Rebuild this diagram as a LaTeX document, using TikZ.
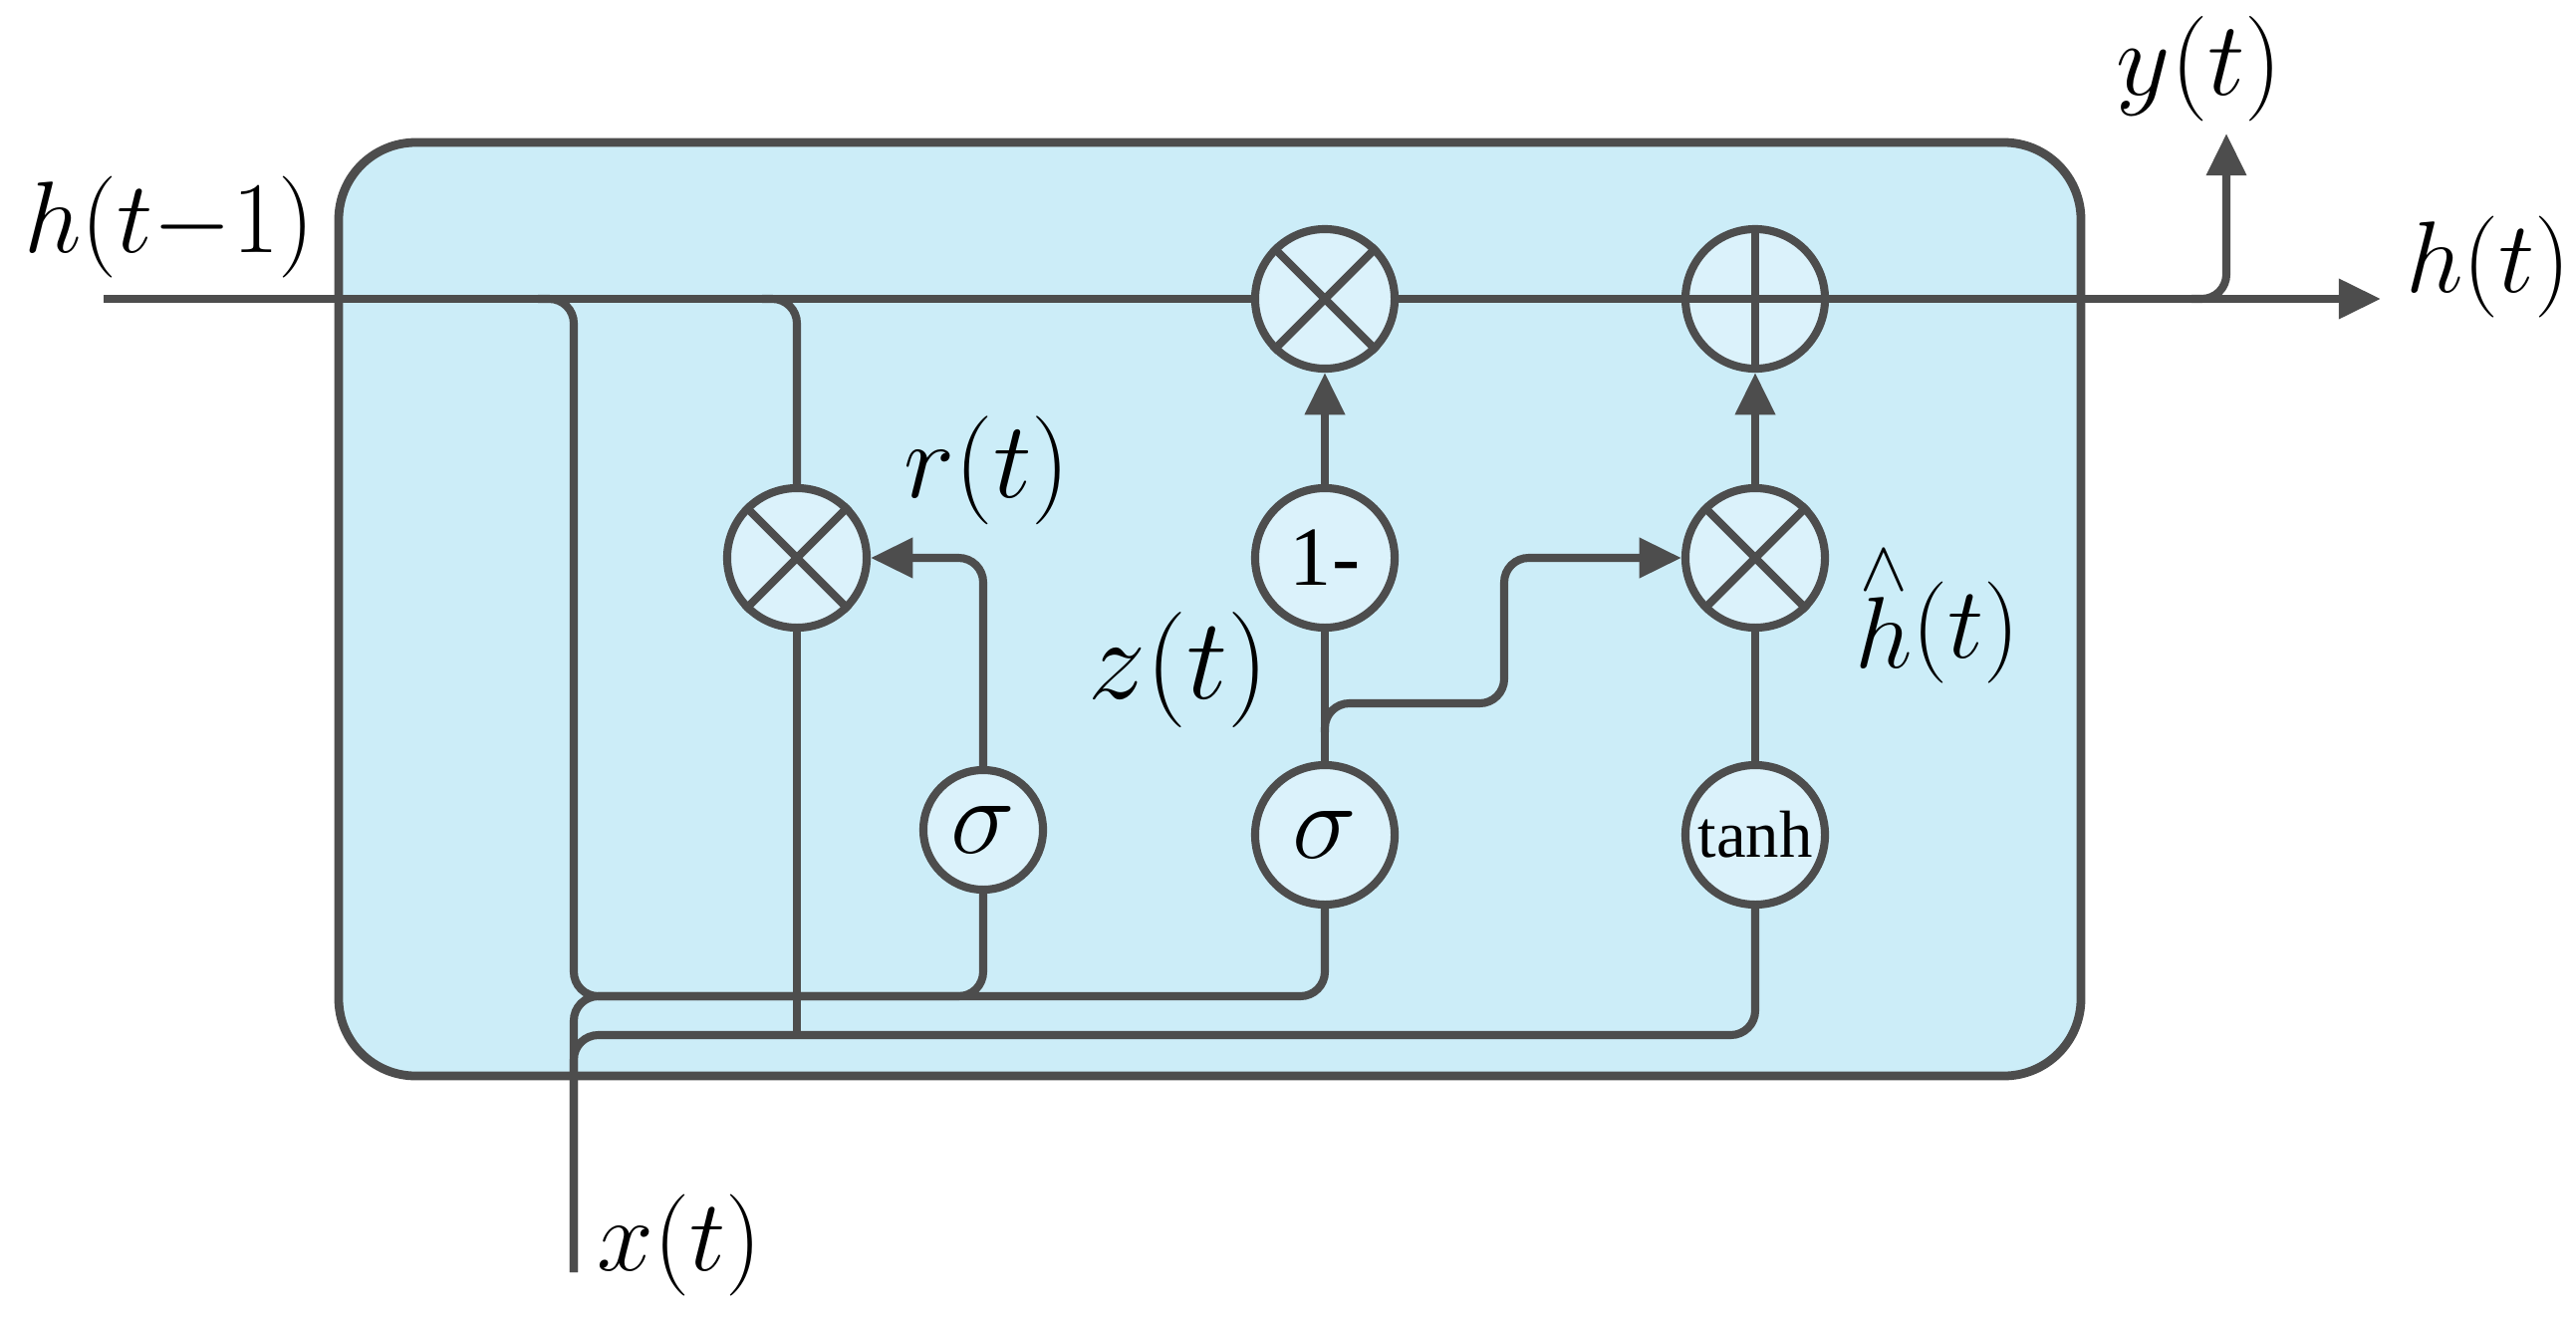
\RequirePackage{fix-cm}
\documentclass[tikz,border=0pt]{standalone}
\usepackage{fontspec}
\setmainfont{Liberation Serif}
\usetikzlibrary{arrows.meta}

\definecolor{cellfill}{HTML}{CCEDF8}
\definecolor{gatefill}{HTML}{DBF2FB}
\definecolor{wire}{HTML}{4D4D4D}

\begin{document}
\begin{tikzpicture}[
  x=0.01cm, y=-0.01cm,
  wire/.style={draw=wire, line width=2.3pt, rounded corners=7pt},
  arr/.style={wire, -{Triangle[length=12pt,width=11pt]}},
  gate/.style={circle, draw=wire, line width=2.3pt, fill=gatefill, minimum size=1.4cm, inner sep=0pt, font=\fontsize{24}{26}\selectfont},
  lbl/.style={font=\fontsize{29}{31}\selectfont}
]
\useasboundingbox (0,0) rectangle (2586,1321);
\draw[draw=wire, line width=2.5pt, fill=cellfill, rounded corners=22pt] (340,143) rectangle (2089,1080);

\node[gate] (mtop) at (1330,300) {};
\node[gate] (plus) at (1762,300) {};
\node[gate] (mr) at (800,560) {};
\node[gate] (one) at (1330,560) {1-};
\node[gate] (mh) at (1762,560) {};
\node[gate, minimum size=1.2cm, font=\fontsize{31}{33}\selectfont] (sr) at (987,833) {$\sigma$};
\node[gate, font=\fontsize{31}{33}\selectfont] (sz) at (1330,838) {$\sigma$};
\node[gate, font=\fontsize{19}{20}\selectfont] (th) at (1762,838) {tanh};

\foreach \g in {mtop,mr,mh}
  \draw[wire] (\g.45) -- (\g.225) (\g.135) -- (\g.-45);
\draw[wire] (plus.north) -- (plus.south) (plus.west) -- (plus.east);

\coordinate (hin) at (104,300);
\coordinate (hout) at (2390,300);
\coordinate (ybr) at (2200,300);
\coordinate (yout) at (2235,134);
\coordinate (xin) at (576,1277);
\coordinate (hbr1) at (540,300);
\coordinate (hbr2) at (765,300);
\coordinate (aline) at (700,1000);
\coordinate (bline) at (700,1039);
\coordinate (zbr) at (1330,735);

% h(t-1) -> h(t)
\draw[wire] (hin) -- (mtop);
\draw[wire] (mtop) -- (plus);
\draw[arr] (plus) -- (hout);
\draw[arr] (ybr) -| (yout);

% gate inputs
\draw[wire] (hbr1) -| (576,1000) -| (sz.south);
\draw[wire] (sr.south) |- (aline);
\draw[wire] (xin) |- (aline);
\draw[wire] (xin) |- (1762,1039) -- (th.south);
\draw[wire] (hbr2) -| (mr.north);
\draw[wire] (mr.south) -- (mr.south |- bline);
\draw[arr] (sr.north) |- (mr.east);

% z(t) and candidate
\draw[wire] (sz) -- (one);
\draw[arr] (one) -- (mtop);
\draw[arr] (zbr) |- (1510,706) |- (mh.west);
\draw[wire] (th) -- (mh);
\draw[arr] (mh) -- (plus);

\node[lbl] (hprev) at (170,228) {$h(t{-}1)$};
\node[lbl] (hnext) at (2498,268) {$h(t)$};
\node[lbl, font=\fontsize{30}{32}\selectfont] (ylbl) at (2208,69) {$y(t)$};
\node[lbl] (xlbl) at (682,1250) {$x(t)$};
\node[lbl, font=\fontsize{31}{33}\selectfont] (rlbl) at (991,472) {$r(t)$};
\node[lbl, font=\fontsize{33}{35}\selectfont] (zlbl) at (1183,672) {$z(t)$};
\node[lbl] (hhat) at (1945,618) {${\stackrel{\wedge}{h}}(t)$};
\end{tikzpicture}
\end{document}
